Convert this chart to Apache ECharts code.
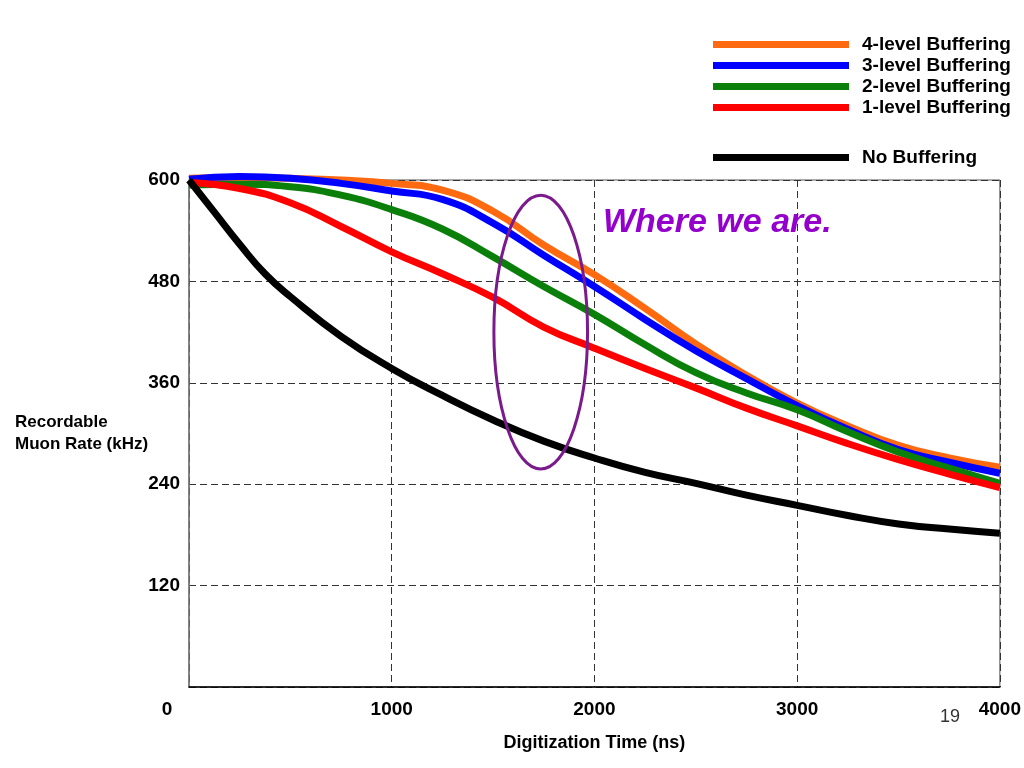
<!DOCTYPE html>
<html>
<head>
<meta charset="utf-8">
<script src="https://cdn.jsdelivr.net/npm/echarts@6/dist/echarts.min.js"></script>
<style>
  html, body { margin: 0; padding: 0; background: #fff; }
  #main { width: 1024px; height: 768px; }
</style>
</head>
<body>
<div id="main"></div>
<script>
// digitization time (ns) -> recordable muon rate (kHz)
const level4 = [[0, 602], [250, 603], [500, 602], [750, 600], [1000, 596], [1250, 588], [1500, 563], [1750, 523],
  [2000, 488], [2250, 448], [2500, 406], [2750, 369], [3000, 336], [3250, 309], [3500, 286], [3750, 271], [4000, 260]]
const level3 = [[0, 601], [250, 604], [500, 602], [750, 596], [1000, 587], [1250, 577], [1500, 549], [1750, 511],
  [2000, 474], [2250, 435], [2500, 398], [2750, 365], [3000, 333], [3250, 305], [3500, 281], [3750, 266], [4000, 253]]
const level2 = [[0, 594], [250, 595], [500, 592], [750, 582], [1000, 565], [1250, 542], [1500, 509], [1750, 474],
  [2000, 441], [2250, 405], [2500, 372], [2750, 348], [3000, 328], [3250, 302], [3500, 278], [3750, 259], [4000, 241]]
const level1 = [[0, 597], [250, 590], [500, 573], [750, 545], [1000, 515], [1250, 489], [1500, 461], [1750, 426],
  [2000, 401], [2250, 377], [2500, 354], [2750, 330], [3000, 309], [3250, 288], [3500, 269], [3750, 252], [4000, 236]]
const noBuffer = [[0, 600], [125, 562], [250, 524], [375, 489], [500, 462], [750, 415], [1000, 377], [1250, 345],
  [1500, 316], [1750, 291], [2000, 271], [2250, 254], [2500, 241], [2750, 227], [3000, 215], [3250, 203],
  [3500, 193], [3750, 187], [4000, 182]]

const xTicks = [0, 1000, 2000, 3000, 4000]
const yTicks = [0, 120, 240, 360, 480, 600]
const bufferedNames = ['4-level Buffering', '3-level Buffering', '2-level Buffering', '1-level Buffering']
const noBufferName = 'No Buffering'

const font = '"Liberation Sans", Arial, Helvetica, sans-serif'
const colors = ['#ff6a10', '#0000ff', '#0a800a', '#ff0000', '#000000']

function lineSeries(name, data, color) {
  return {
    name: name,
    type: 'line',
    data: data,
    smooth: true,
    showSymbol: false,
    clip: false,
    color: color,
    lineStyle: { width: 7, color: color },
    z: 3
  }
}

const myChart = echarts.init(document.getElementById('main'))

const legendText = { fontFamily: font, fontWeight: 'bold', fontSize: 19, color: '#000', lineHeight: 21, padding: [0, 0, 0, 8] }

myChart.setOption({
  backgroundColor: '#fff',
  animation: false,
  grid: { left: 189, right: 23, top: 180, bottom: 81, show: true, borderColor: '#555', borderWidth: 1 },
  legend: [{
    data: bufferedNames,
    orient: 'vertical',
    left: 713,
    top: 34,
    padding: 0,
    icon: 'rect',
    itemWidth: 136,
    itemHeight: 7,
    itemGap: 0,
    textStyle: legendText
  }, {
    data: [noBufferName],
    orient: 'vertical',
    left: 713,
    top: 147,
    padding: 0,
    icon: 'rect',
    itemWidth: 136,
    itemHeight: 7,
    textStyle: legendText
  }],
  xAxis: {
    type: 'value',
    min: xTicks[0],
    max: xTicks[xTicks.length - 1],
    interval: 1000,
    name: 'Digitization Time (ns)',
    nameLocation: 'middle',
    nameGap: 47,
    nameTextStyle: { fontFamily: font, fontWeight: 'bold', fontSize: 18, color: '#000' },
    axisLine: { lineStyle: { color: '#000', width: 1.5 } },
    axisTick: { show: false },
    axisLabel: {
      margin: 13,
      fontFamily: font, fontWeight: 'bold', fontSize: 19, color: '#000',
      formatter: v => v === 0 ? '{z|0}' : String(v),
      rich: { z: { fontFamily: font, fontWeight: 'bold', fontSize: 19, color: '#000', padding: [0, 44, 0, 0] } }
    },
    splitLine: { show: true, lineStyle: { type: [7, 4], color: '#333', width: 1 } }
  },
  yAxis: {
    type: 'value',
    min: yTicks[0],
    max: yTicks[yTicks.length - 1],
    interval: 120,
    name: 'Recordable\nMuon Rate (kHz)',
    nameLocation: 'middle',
    nameRotate: 0,
    nameGap: 174,
    nameMoveOverlap: false,
    nameTextStyle: { fontFamily: font, fontWeight: 'bold', fontSize: 17, color: '#000', align: 'left', lineHeight: 22 },
    axisLine: { show: true, lineStyle: { color: '#777', width: 1.5 } },
    axisTick: { show: false },
    axisLabel: {
      margin: 9,
      fontFamily: font, fontWeight: 'bold', fontSize: 19, color: '#000',
      formatter: v => v === 0 ? '' : String(v)
    },
    splitLine: { show: true, lineStyle: { type: [7, 4], color: '#333', width: 1 } }
  },
  series: [
    lineSeries(bufferedNames[0], level4, colors[0]),
    lineSeries(bufferedNames[1], level3, colors[1]),
    lineSeries(bufferedNames[2], level2, colors[2]),
    lineSeries(bufferedNames[3], level1, colors[3]),
    lineSeries(noBufferName, noBuffer, colors[4])
  ]
})

// annotation: ellipse round 1500..1970 ns, 258..582 kHz
const c = myChart.convertToPixel({ gridIndex: 0 }, [1735, 420])
const e = myChart.convertToPixel({ gridIndex: 0 }, [1735 + 231, 420 + 162])

myChart.setOption({
  graphic: [{
    type: 'ellipse',
    shape: { cx: c[0], cy: c[1], rx: e[0] - c[0], ry: c[1] - e[1] },
    style: { fill: 'none', stroke: '#7a1a8c', lineWidth: 3 },
    z: 10
  }, {
    type: 'text',
    left: 603,
    top: 206,
    style: { text: 'Where we are.', fill: '#9400cc', font: 'italic bold 34px ' + font },
    z: 10
  }, {
    type: 'text',
    left: 940,
    top: 708,
    style: { text: '19', fill: '#333', font: '18px ' + font },
    z: 10
  }]
})
</script>
</body>
</html>
